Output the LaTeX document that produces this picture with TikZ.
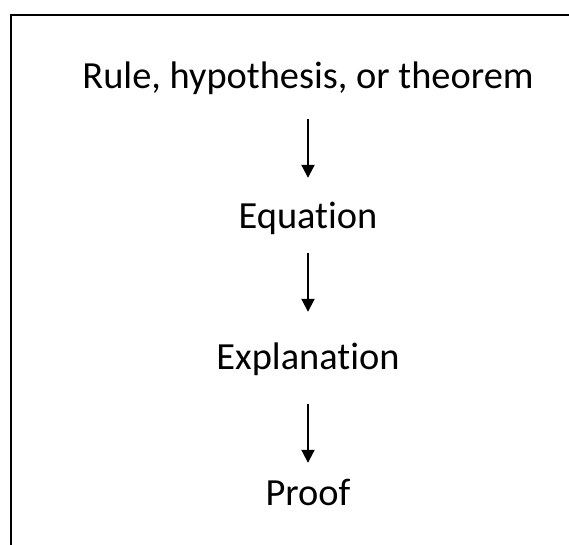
\documentclass[tikz,border=0pt]{standalone}
\usepackage{fontspec}
\setmainfont[Ligatures=NoCommon]{Carlito}
\usetikzlibrary{arrows.meta}

\tikzset{
	step text/.style={anchor=base, inner sep=0pt, text height=23pt, text depth=0pt,
		font=\fontsize{38.4}{46}\selectfont},
	flow/.style={-{Triangle[width=13pt,length=13pt]}, line width=2pt}
}

\begin{document}
\begin{tikzpicture}[x=1pt,y=-1pt]

	\useasboundingbox (0,0) rectangle (569,544);

	% frame, only its top and left sides are in view
	\draw[line width=2pt] (10.5,560) |- (590,14.5);

	% the four steps
	\node[step text] (rule) at (308,88) {Rule, hypothesis, or theorem};
	\node[step text] (equation) at (308,228) {Equation};
	\node[step text] (explanation) at (308,369) {Explanation};
	\node[step text] (proof) at (308,505) {Proof};

	\draw[flow, shorten <=31pt, shorten >=27pt] (rule.south) -- (equation.north);
	\draw[flow, shorten <=25pt, shorten >=34pt] (equation.south) -- (explanation.north);
	\draw[flow, shorten <=35pt, shorten >=19pt] (explanation.south) -- (proof.north);

\end{tikzpicture}
\end{document}
